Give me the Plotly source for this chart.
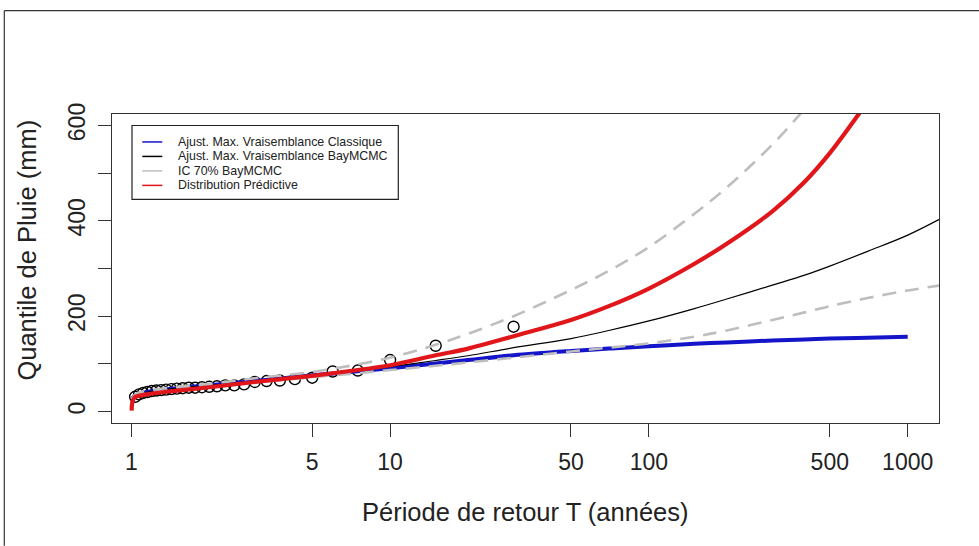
import plotly.graph_objects as go

# Observed annual maxima with Weibull plotting positions T = (n+1)/k
T_obs = [30 / k for k in range(1, 30)]
Q_obs = [178, 138, 108, 86, 84, 71, 68, 65, 64, 62, 57, 55, 55, 53, 52, 51,
         50, 50, 49, 48, 47, 46, 45, 44, 43, 41, 39, 36, 31]

# Return periods used for the fitted curves
T_fit = [1.003, 1.01, 1.03, 1.07, 1.15, 1.3, 1.5, 2, 3, 5, 7, 10, 15, 20, 30,
         50, 70, 100, 150, 200, 300, 400, 500, 700, 1000, 1400]

Q_ml_classic = [None, 28, 33, 37, 41, 45, 49, 55, 64, 76, 83, 91, 101, 108, 118,
                127, 132, 137, 142, 145, 149, 151, 153, 155, 157, None]
Q_ml_bayes = [None, 28, 33, 37, 41, 45, 49, 55, 64, 76, 84, 94, 107, 117, 134,
              153, 170, 190, 216, 236, 265, 286, 305, 336, 370, 410]
Q_ic_low = [None, 27, 32, 35, 39, 43, 47, 53, 61, 72, 79, 87, 96, 103, 113,
            126, 134, 143, 157, 170, 192, 208, 221, 238, 254, 266]
Q_ic_high = [None, 29, 35, 40, 44, 48, 52, 58, 70, 83, 96, 113, 140, 163, 200,
             255, 295, 345, 415, 470, 560, 635, 700, None, None, None]
Q_predictive = [2, 20, 30, 33, 36, 40, 44, 51, 62, 75, 85, 97, 118, 132, 158,
                192, 221, 258, 310, 352, 420, 482, 542, 650, None, None]

x_ticks = [1, 5, 10, 50, 100, 500, 1000]
y_ticks = [0, 100, 200, 300, 400, 500, 600]
y_labels = ["0", "", "200", "", "400", "", "600"]

legend_labels = ["Ajust. Max. Vraisemblance Classique",
                 "Ajust. Max. Vraisemblance BayMCMC",
                 "IC 70% BayMCMC",
                 "Distribution Prédictive"]

BLUE = "#1414c8"
BLACK = "#000000"
GRAY = "#bebebe"
RED = "#e0161b"
FONT = "Liberation Sans, Arial, sans-serif"
TXT = "#222222"

# plot-area geometry in pixels
W, H = 979, 546
L, R, TOP, BOT = 111.7, 938.7, 113.5, 423.0
PW, PH = R - L, BOT - TOP


def px(x):
    return (x - L) / PW


def py(y):
    return (BOT - y) / PH


fig = go.Figure()

fig.add_trace(go.Scatter(x=T_obs, y=Q_obs, mode="markers",
                         marker=dict(symbol="circle-open", size=11,
                                     color=BLACK, line=dict(width=1.4)),
                         showlegend=False))
fig.add_trace(go.Scatter(x=T_fit, y=Q_ml_classic, mode="lines",
                         line=dict(color=BLUE, width=4, shape="spline"),
                         showlegend=False))
fig.add_trace(go.Scatter(x=T_fit, y=Q_ml_bayes, mode="lines",
                         line=dict(color=BLACK, width=1.2, shape="spline"),
                         showlegend=False))
for q in (Q_ic_low, Q_ic_high):
    fig.add_trace(go.Scatter(x=T_fit, y=q, mode="lines",
                             line=dict(color=GRAY, width=2.6, dash="14px,9px",
                                       shape="spline"),
                             showlegend=False))
fig.add_trace(go.Scatter(x=T_fit, y=Q_predictive, mode="lines",
                         line=dict(color=RED, width=4.2, shape="spline"),
                         showlegend=False))

shapes = []
# outer frame (top and left edges)
shapes.append(dict(type="line", xref="paper", yref="paper",
                   x0=px(4), x1=px(W), y0=py(10), y1=py(10),
                   line=dict(color="#333333", width=1.2)))
shapes.append(dict(type="line", xref="paper", yref="paper",
                   x0=px(4), x1=px(4), y0=py(10), y1=py(H),
                   line=dict(color="#333333", width=1.2)))
# legend box
lx0, lx1, ly0, ly1 = 131.7, 398.0, 125.0, 199.0
shapes.append(dict(type="rect", xref="paper", yref="paper",
                   x0=px(lx0), x1=px(lx1), y0=py(ly0), y1=py(ly1),
                   line=dict(color="#222222", width=1.2), fillcolor="white",
                   layer="above"))
legend_colors = [BLUE, BLACK, GRAY, RED]
annotations = []
for i, (lab, col) in enumerate(zip(legend_labels, legend_colors)):
    yy = 141.5 + 14.5 * i
    shapes.append(dict(type="line", xref="paper", yref="paper",
                       x0=px(142), x1=px(162), y0=py(yy), y1=py(yy),
                       line=dict(color=col, width=1.5), layer="above"))
    annotations.append(dict(text=lab, xref="paper", yref="paper",
                            x=px(176), y=py(yy), xanchor="left",
                            yanchor="middle", showarrow=False,
                            font=dict(family=FONT, size=12.4, color=TXT)))

# axis titles
annotations.append(dict(text="Période de retour T (années)", xref="paper",
                        yref="paper", x=px(525), y=py(512), xanchor="center",
                        yanchor="middle", showarrow=False,
                        font=dict(family=FONT, size=25.5, color=TXT)))
annotations.append(dict(text="Quantile de Pluie (mm)", xref="paper",
                        yref="paper", x=px(27), y=py(250), xanchor="center",
                        yanchor="middle", showarrow=False, textangle=-90,
                        font=dict(family=FONT, size=25.5, color=TXT)))

fig.update_layout(
    width=W, height=H,
    margin=dict(l=L, r=W - R, t=TOP, b=H - BOT),
    paper_bgcolor="white", plot_bgcolor="white",
    font=dict(family=FONT, color=TXT),
    shapes=shapes, annotations=annotations,
    xaxis=dict(type="log", range=[-0.0746, 3.121], tickvals=x_ticks,
               ticktext=[str(v) for v in x_ticks],
               showgrid=False, zeroline=False,
               showline=True, mirror=True, linecolor="#333333", linewidth=1.3,
               ticks="outside", ticklen=13, tickwidth=1.2, tickcolor="#333333",
               tickfont=dict(size=23, family=FONT, color=TXT),
               ticklabelstandoff=5),
    yaxis=dict(range=[-24, 624], tickvals=y_ticks, ticktext=y_labels,
               showgrid=False, zeroline=False,
               showline=True, mirror=True, linecolor="#333333", linewidth=1.3,
               ticks="outside", ticklen=13, tickwidth=1.2, tickcolor="#333333",
               tickangle=-90,
               tickfont=dict(size=23, family=FONT, color=TXT),
               ticklabelstandoff=4),
)

fig.write_html("out.html")
